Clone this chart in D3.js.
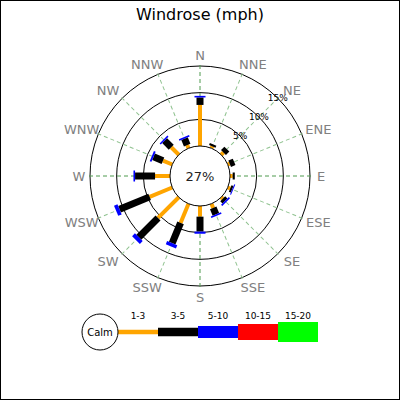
<!DOCTYPE html>
<html>
<head>
<meta charset="utf-8">
<script src="https://cdnjs.cloudflare.com/ajax/libs/d3/7.8.5/d3.min.js"></script>
<style>
  html, body { margin: 0; padding: 0; background: #fff; }
  svg { display: block; font-family: 'DejaVu Sans', sans-serif; }
</style>
</head>
<body>
<svg width="400" height="400"></svg>
<script>
// compass directions, clockwise from north
const directions = ['N', 'NNE', 'NE', 'ENE', 'E', 'ESE', 'SE', 'SSE',
                    'S', 'SSW', 'SW', 'WSW', 'W', 'WNW', 'NW', 'NNW']

// percent of time per direction and speed range (mph)
const range1to3  = [7.7, 0.4, 0.6, 0.4, 0.5, 0.5, 0.4, 0.85, 2.0, 3.9, 5.5, 4.6, 2.8, 1.9, 2.0, 0.65]
const range3to5  = [1.4, 0.4, 0.9, 0.9, 0.4, 0.4, 0.6, 1.3, 2.8, 4.1, 5.1, 6.1, 3.75, 1.9, 1.75, 1.3]
const range5to10 = [0.3, 0, 0, 0, 0, 0.2, 0.3, 0.3, 0.4, 0.65, 0.75, 0.7, 0.3, 0.35, 0.3, 0.3]

const rangeLabels = ['1-3', '3-5', '5-10', '10-15', '15-20']
const rangeColors = ['#ffa500', '#000000', '#0000ff', '#ff0000', '#00ff00']
const calmPercent = 27
const scaleTicks = [5, 10, 15]

const svg = d3.select('svg')
const cx = 200, cy = 176
const calmR = 30

svg.append('rect')
    .attr('x', 0.5).attr('y', 0.5)
    .attr('width', 399).attr('height', 399)
    .attr('fill', '#fff')
    .attr('stroke', '#000')

svg.append('text')
    .attr('x', 200).attr('y', 20)
    .attr('text-anchor', 'middle')
    .style('font-size', '16px')
    .text('Windrose (mph)')

const r = d3.scaleLinear().domain([0, 15]).range([calmR, 110])
const angle = d3.scalePoint().domain(directions).range([0, 360 - 22.5])
const rad = d => angle(d) * Math.PI / 180

const g = svg.append('g').attr('transform', 'translate(' + cx + ',' + cy + ')')

// circles
g.selectAll('circle.grid')
    .data(scaleTicks)
  .enter().append('circle')
    .attr('class', 'grid')
    .attr('r', d => r(d))
    .attr('fill', 'none')
    .attr('stroke', '#000')

// radial lines
g.selectAll('line.spoke')
    .data(directions)
  .enter().append('line')
    .attr('class', 'spoke')
    .attr('transform', d => 'rotate(' + angle(d) + ')')
    .attr('y1', -calmR).attr('y2', -114)
    .attr('stroke', (d, i) => i % 4 === 0 ? '#4e9a4e' : '#8fc28f')
    .attr('stroke-dasharray', '4,3')

// stacked bars
const table = directions.map((d, i) => ({
  dir: d, a: range1to3[i], b: range3to5[i], c: range5to10[i]
}))
const stack = d3.stack().keys(['a', 'b', 'c'])(table)
const barWidths = [4, 7, 11]

stack.forEach((layer, k) => {
  g.selectAll('rect.s' + k)
      .data(layer.filter(d => d[1] > d[0]))
    .enter().append('rect')
      .attr('class', 's' + k)
      .attr('transform', d => 'rotate(' + angle(d.data.dir) + ')')
      .attr('x', -barWidths[k] / 2)
      .attr('width', barWidths[k])
      .attr('y', d => -r(d[1]))
      .attr('height', d => r(d[1]) - r(d[0]))
      .attr('fill', rangeColors[k])
})

// calm circle
g.append('circle')
    .attr('r', calmR)
    .attr('fill', '#fff')
    .attr('stroke', '#000')

g.append('text')
    .attr('dy', '0.36em')
    .attr('text-anchor', 'middle')
    .style('font-size', '13px')
    .attr('fill', '#222')
    .text(calmPercent + '%')

// scale labels along NE
g.selectAll('text.tick')
    .data(scaleTicks)
  .enter().append('text')
    .attr('class', 'tick')
    .attr('x', d => r(d) * Math.sin(Math.PI / 4))
    .attr('y', d => -r(d) * Math.cos(Math.PI / 4))
    .attr('dy', '0.36em')
    .attr('text-anchor', 'middle')
    .style('font-size', '9px')
    .text(d => d + '%')

// compass labels, non-cardinal ones pushed a little sideways
const labelR = 121
g.selectAll('text.dir')
    .data(directions)
  .enter().append('text')
    .attr('class', 'dir')
    .attr('x', (d, i) => {
      const s = Math.sin(rad(d))
      return labelR * s + (i % 4 === 0 ? 0 : 6.5 * Math.sign(s))
    })
    .attr('y', d => -labelR * Math.cos(rad(d)))
    .attr('dy', '0.36em')
    .attr('text-anchor', 'middle')
    .style('font-size', '13px')
    .attr('fill', '#808080')
    .text(d => d)

// legend
const legY = 332
const legX = d3.scaleBand().domain(rangeLabels).range([118, 318])
const legWidths = [4.5, 8.5, 12, 16, 20]
const leg = svg.append('g')

leg.selectAll('rect')
    .data(rangeLabels)
  .enter().append('rect')
    .attr('x', d => legX(d))
    .attr('width', legX.bandwidth())
    .attr('y', (d, i) => legY - legWidths[i] / 2)
    .attr('height', (d, i) => legWidths[i])
    .attr('fill', (d, i) => rangeColors[i])

leg.selectAll('text')
    .data(rangeLabels)
  .enter().append('text')
    .attr('x', d => legX(d) + legX.bandwidth() / 2)
    .attr('y', 319)
    .attr('text-anchor', 'middle')
    .style('font-size', '9px')
    .text(d => d)

leg.append('circle')
    .attr('cx', 100).attr('cy', legY)
    .attr('r', 18)
    .attr('fill', '#fff')
    .attr('stroke', '#000')

leg.append('text')
    .attr('x', 100).attr('y', legY)
    .attr('dy', '0.36em')
    .attr('text-anchor', 'middle')
    .style('font-size', '10px')
    .text('Calm')
</script>
</body>
</html>
